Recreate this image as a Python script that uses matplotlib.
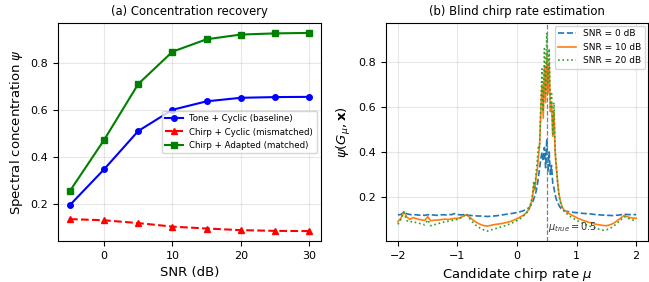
import numpy as np
import matplotlib
matplotlib.use("Agg")
import matplotlib.pyplot as plt

# (a) concentration vs SNR
snr_db = [-5, 0, 5, 10, 15, 20, 25, 30]
tone_cyclic = [0.195, 0.347, 0.510, 0.600, 0.636, 0.651, 0.654, 0.655]
chirp_cyclic = [0.135, 0.130, 0.118, 0.103, 0.095, 0.088, 0.085, 0.084]
chirp_adapted = [0.255, 0.472, 0.710, 0.847, 0.900, 0.920, 0.925, 0.927]

# (b) blind chirp rate scan
mu = np.round(np.concatenate([np.arange(-2.0, 0.21, 0.05),
                              np.arange(0.22, 0.79, 0.02),
                              np.arange(0.80, 2.01, 0.05)]), 2)
psi_0db = [0.120, 0.122, 0.132, 0.125, 0.122, 0.120, 0.121, 0.119, 0.120, 0.118,
           0.121, 0.119, 0.120, 0.118, 0.119, 0.121, 0.120, 0.122, 0.121, 0.126,
           0.122, 0.120, 0.121, 0.119, 0.118, 0.117, 0.116, 0.115, 0.115, 0.114,
           0.113, 0.114, 0.115, 0.116, 0.118, 0.120, 0.122, 0.124, 0.126, 0.128,
           0.131, 0.134, 0.138, 0.144, 0.152,
           0.158, 0.165, 0.175, 0.190, 0.205, 0.225, 0.250, 0.290, 0.330, 0.370,
           0.400, 0.360, 0.420, 0.330, 0.460, 0.310, 0.400, 0.300, 0.340, 0.260,
           0.240, 0.210, 0.190, 0.175, 0.165, 0.155, 0.148, 0.143, 0.140,
           0.138, 0.135, 0.133, 0.131, 0.130, 0.128, 0.127, 0.126, 0.125, 0.124,
           0.122, 0.121, 0.120, 0.119, 0.118, 0.118, 0.117, 0.118, 0.119, 0.121,
           0.123, 0.122, 0.121, 0.122, 0.121]
psi_10db = [0.090, 0.105, 0.135, 0.110, 0.100, 0.108, 0.104, 0.100, 0.098, 0.095,
            0.112, 0.094, 0.096, 0.097, 0.098, 0.100, 0.101, 0.100, 0.102, 0.105,
            0.104, 0.108, 0.115, 0.122, 0.110, 0.100, 0.090, 0.082, 0.076, 0.072,
            0.070, 0.073, 0.076, 0.078, 0.080, 0.082, 0.085, 0.088, 0.092, 0.097,
            0.103, 0.110, 0.118, 0.128, 0.145,
            0.160, 0.175, 0.200, 0.250, 0.230, 0.290, 0.320, 0.380, 0.440, 0.580,
            0.700, 0.550, 0.780, 0.620, 0.840, 0.660, 0.800, 0.580, 0.620, 0.470,
            0.580, 0.400, 0.330, 0.270, 0.220, 0.190, 0.170, 0.155, 0.145,
            0.140, 0.130, 0.122, 0.115, 0.108, 0.102, 0.097, 0.092, 0.088, 0.084,
            0.080, 0.077, 0.075, 0.073, 0.072, 0.075, 0.080, 0.088, 0.098, 0.108,
            0.118, 0.112, 0.108, 0.106, 0.105]
psi_20db = [0.078, 0.100, 0.132, 0.095, 0.088, 0.092, 0.086, 0.083, 0.080, 0.076,
            0.098, 0.072, 0.075, 0.080, 0.083, 0.087, 0.090, 0.092, 0.095, 0.099,
            0.100, 0.106, 0.114, 0.125, 0.105, 0.090, 0.076, 0.066, 0.058, 0.052,
            0.048, 0.052, 0.056, 0.060, 0.064, 0.068, 0.072, 0.077, 0.082, 0.088,
            0.095, 0.103, 0.113, 0.125, 0.142,
            0.160, 0.180, 0.210, 0.270, 0.240, 0.310, 0.360, 0.430, 0.420, 0.620,
            0.770, 0.580, 0.860, 0.660, 0.930, 0.700, 0.860, 0.600, 0.660, 0.480,
            0.620, 0.410, 0.340, 0.270, 0.220, 0.185, 0.165, 0.150, 0.140,
            0.134, 0.122, 0.112, 0.104, 0.096, 0.089, 0.083, 0.077, 0.072, 0.067,
            0.062, 0.058, 0.055, 0.052, 0.054, 0.058, 0.066, 0.076, 0.088, 0.100,
            0.112, 0.108, 0.100, 0.097, 0.095]
mu_true = 0.5

fig = plt.figure(figsize=(6.49, 2.82), dpi=100)
ax1 = fig.add_axes([0.0894, 0.1454, 0.4052, 0.773])
ax2 = fig.add_axes([0.5948, 0.1454, 0.4037, 0.773])

# left panel
ax1.plot(snr_db, tone_cyclic, 'o-', color='blue', lw=1.5, ms=4, label='Tone + Cyclic (baseline)')
ax1.plot(snr_db, chirp_cyclic, '^--', color='red', lw=1.5, ms=4, label='Chirp + Cyclic (mismatched)')
ax1.plot(snr_db, chirp_adapted, 's-', color='green', lw=1.5, ms=4, label='Chirp + Adapted (matched)')
ax1.set_xlabel('SNR (dB)', fontsize=9.5)
ax1.set_ylabel(r'Spectral concentration $\psi$', fontsize=9.5)
ax1.set_title('(a) Concentration recovery', fontsize=8.4)
ax1.set_xticks([0, 10, 20, 30])
ax1.set_yticks([0.2, 0.4, 0.6, 0.8])
ax1.tick_params(labelsize=8)
ax1.grid(True, alpha=0.3)
ax1.legend(loc='center right', fontsize=6.2, handlelength=2.0)

# right panel
ax2.plot(mu, psi_0db, '--', color='tab:blue', lw=1.2, label='SNR = 0 dB')
ax2.plot(mu, psi_10db, '-', color='tab:orange', lw=1.2, label='SNR = 10 dB')
ax2.plot(mu, psi_20db, ':', color='tab:green', lw=1.2, label='SNR = 20 dB')
ax2.axvline(mu_true, color='gray', ls='--', lw=0.9)
ax2.text(mu_true + 0.02, 0.055, r'$\mu_{true} = 0.5$', fontsize=7, color='#333333')
ax2.set_xlabel(r'Candidate chirp rate $\mu$', fontsize=9.5)
ax2.set_ylabel(r'$\psi(G_\mu, \mathbf{x})$', fontsize=9.5)
ax2.set_title('(b) Blind chirp rate estimation', fontsize=8.4)
ax2.set_xticks([-2, -1, 0, 1, 2])
ax2.set_yticks([0.2, 0.4, 0.6, 0.8])
ax2.tick_params(labelsize=8)
ax2.grid(True, alpha=0.3)
ax2.legend(loc='upper right', fontsize=6.5, handlelength=2.0, borderaxespad=0.3)

fig.savefig('out.png', dpi=100)
